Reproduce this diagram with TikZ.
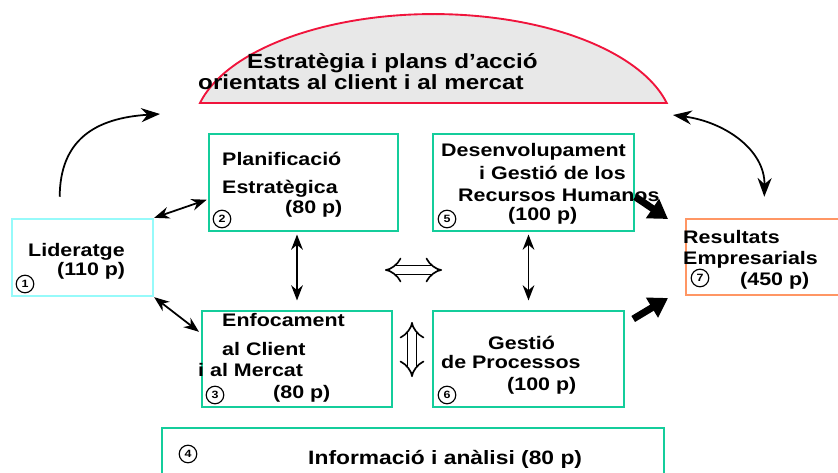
\documentclass[tikz,border=0pt]{standalone}
\usepackage{fontspec}
\setmainfont{Liberation Sans}[FakeStretch=1.18]
\usetikzlibrary{arrows.meta}
\definecolor{boxgreen}{RGB}{20,205,155}
\definecolor{boxcyan}{RGB}{150,250,250}
\definecolor{boxorange}{RGB}{255,150,100}
\definecolor{domegray}{RGB}{232,232,232}
\definecolor{domered}{RGB}{240,20,60}
\tikzstyle{box}=[draw=boxgreen,line width=2pt,inner sep=0pt]
\tikzstyle{lbl}=[anchor=base west,inner sep=0pt,font=\fontsize{15.5}{18}\selectfont\bfseries]
\tikzstyle{num}=[circle,draw,line width=1pt,minimum size=15pt,inner sep=0pt,font=\fontsize{9}{9}\selectfont\bfseries]
\tikzstyle{dbl}=[{Stealth[length=13pt,width=10pt]}-{Stealth[length=13pt,width=10pt]},line width=1.5pt]
\tikzstyle{fat}=[-{Triangle[length=16pt,width=19pt]},line width=6pt]
\tikzstyle{hollow}=[double,double distance=6pt,line width=1.4pt,{Implies[scale=1.4]}-{Implies[scale=1.4]}]
\tikzstyle{curv}=[line width=1.5pt]

\begin{document}
\begin{tikzpicture}[x=0.03cm,y=-0.03cm]
\clip (0,0) rectangle (838,472);
% dome
\filldraw[fill=domegray,draw=domered,line width=1.6pt] (200,103) arc[start angle=-166.5,end angle=-13.5,x radius=240,y radius=116] -- cycle;
\node[lbl,font=\fontsize{17.5}{20}\selectfont\bfseries] at (247,68) (dome1) {Estratègia i plans d’acció};
\node[lbl,font=\fontsize{17.5}{20}\selectfont\bfseries] at (198,89) (dome2) {orientats al client i al mercat};

% boxes
\node[box,draw=boxcyan,minimum width=4.23cm,minimum height=2.31cm] at (82.5,257.5) (lid) {};
\node[box,minimum width=5.67cm,minimum height=2.91cm] at (303.5,182.5) (plan) {};
\node[box,minimum width=6.03cm,minimum height=2.91cm] at (533.5,182.5) (des) {};
\node[box,minimum width=5.7cm,minimum height=2.88cm] at (297,359) (enf) {};
\node[box,minimum width=5.73cm,minimum height=2.88cm] at (528.5,359) (ges) {};
\node[box,minimum width=15.06cm,minimum height=1.44cm] at (413,452) (info) {};
\node[box,draw=boxorange,minimum width=4.68cm,minimum height=2.28cm] at (764,257) (res) {};

% texts
\node[lbl] at (28,256) (lid1) {Lideratge};
\node[lbl] at (57,275) (lid2) {(110 p)};
\node[num] at (25,284) (n1) {1};
\node[lbl] at (222,165) (plan1) {Planificació};
\node[lbl] at (222,193) (plan2) {Estratègica};
\node[lbl] at (285,213) (plan3) {(80 p)};
\node[num] at (222,219) (n2) {2};
\node[lbl] at (222,326) (enf1) {Enfocament};
\node[lbl] at (222,355) (enf2) {al Client};
\node[lbl] at (198,376) (enf3) {i al Mercat};
\node[lbl] at (273,398) (enf4) {(80 p)};
\node[num] at (215,395) (n3) {3};
\node[lbl,font=\fontsize{16.5}{18}\selectfont\bfseries] at (308,464) (info1) {Informació i anàlisi (80 p)};
\node[num] at (188,454) (n4) {4};
\node[lbl] at (441,156) (des1) {Desenvolupament};
\node[lbl] at (479,179) (des2) {i Gestió de los};
\node[lbl] at (458,201) (des3) {Recursos Humanos};
\node[lbl] at (508,220) (des4) {(100 p)};
\node[num] at (447,219) (n5) {5};
\node[lbl] at (488,349) (ges1) {Gestió};
\node[lbl] at (441,368) (ges2) {de Processos};
\node[lbl] at (507,390) (ges3) {(100 p)};
\node[num] at (447,395) (n6) {6};
\node[lbl] at (683,243) (res1) {Resultats};
\node[lbl] at (683,264) (res2) {Empresarials};
\node[lbl] at (740,285) (res3) {(450 p)};
\node[num] at (700,278) (n7) {7};

% connectors
\coordinate (lt) at (160,114);
\coordinate (rt) at (673,115);
\draw[curv,-{Stealth[length=16pt,width=12pt]},shorten <=18pt] (lid.120) .. controls (60,140) and (95,118) .. (lt);
\draw[curv,{Stealth[length=16pt,width=12pt]}-{Stealth[length=16pt,width=12pt]},shorten >=18pt] (rt) .. controls (725,122) and (765,150) .. (res.north);
\draw[dbl,shorten >=1pt] (lid.north east) -- (plan.190);
\draw[dbl,shorten >=2pt] (lid.south east) -- (enf.165);
\draw[dbl,shorten <=2pt,shorten >=8pt] (plan.south -| enf.north) -- (enf.north);
\draw[dbl,shorten <=2pt,shorten >=8pt] (des.south -| ges.north) -- (ges.north);
\coordinate (r1) at (668,219);
\coordinate (r2) at (668,298);
\draw[fat] (des.352) -- (r1);
\draw[fat,shorten <=8pt] (ges.20) -- (r2);
\coordinate (h1) at (385,270);
\coordinate (h2) at (442,270);
\coordinate (v1) at (412,322);
\coordinate (v2) at (412,377);
\draw[hollow] (h1) -- (h2);
\draw[hollow] (v1) -- (v2);
\end{tikzpicture}
\end{document}
